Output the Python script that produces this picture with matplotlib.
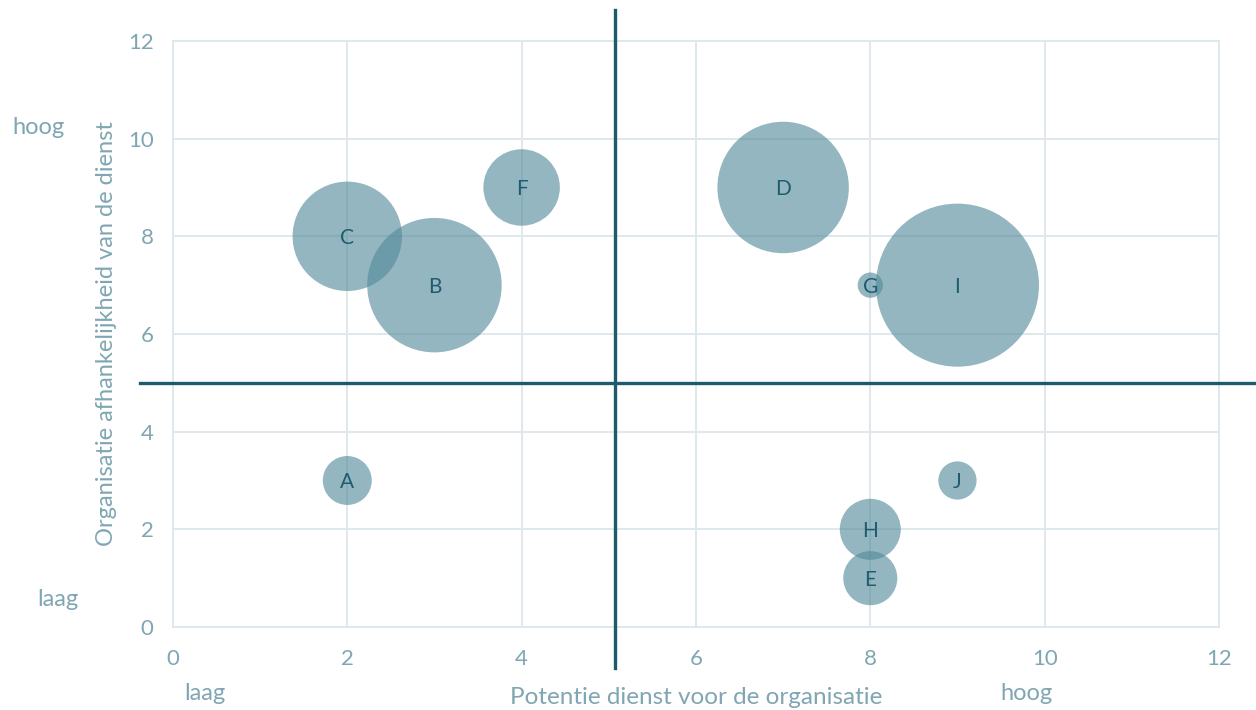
import matplotlib.pyplot as plt

# data
labels = ["A", "B", "C", "D", "E", "F", "G", "H", "I", "J"]
potentie = [2, 3, 2, 7, 8, 4, 8, 8, 9, 9]
afhankelijkheid = [3, 7, 8, 9, 1, 9, 7, 2, 7, 3]
grootte = [9, 68, 45, 65, 11, 22, 2.4, 14, 100, 5.5]

ticks = [0, 2, 4, 6, 8, 10, 12]

tick_col = "#7fa6b2"
line_col = "#1d5b6c"
bubble_col = "#52899a"
text_col = "#1f5c70"
grid_col = "#dde9ed"

plt.rcParams['font.family'] = ['Lato', 'DejaVu Sans']

fig = plt.figure(figsize=(12.56, 7.10), dpi=100)
ax = fig.add_axes([0.1377, 0.1169, 0.8328, 0.8254])

# bubble area proportional to value (largest ~ 163 px across)
scale = 137.8
ax.scatter(potentie, afhankelijkheid, s=[g * scale for g in grootte],
           color=bubble_col, alpha=0.62, linewidths=0, zorder=3)
for lab, x, y in zip(labels, potentie, afhankelijkheid):
    ax.text(x, y - 0.03, lab, ha="center", va="center", fontsize=15,
            color=text_col, zorder=4)

ax.set_xlim(0, 12)
ax.set_ylim(0, 12)
ax.set_xticks(ticks)
ax.set_yticks(ticks)
ax.tick_params(length=0, labelsize=16, labelcolor=tick_col)
ax.tick_params(axis="x", pad=16)
ax.tick_params(axis="y", pad=14)
ax.grid(True, color=grid_col, linewidth=1.4, zorder=0)
ax.set_axisbelow(True)
for sp in ax.spines.values():
    sp.set_color(grid_col)
    sp.set_linewidth(1.4)

# quadrant lines, running past the plot area
ax.plot([5.07, 5.07], [-0.84, 12.63], color=line_col, linewidth=2.4,
        clip_on=False, zorder=5)
ax.plot([-0.38, 12.45], [5, 5], color=line_col, linewidth=2.4,
        clip_on=False, zorder=5)

ax.set_xlabel("Potentie dienst voor de organisatie", fontsize=17.5,
              color=tick_col, labelpad=13)
ax.set_ylabel("Organisatie afhankelijkheid van de dienst", fontsize=17,
              color=tick_col, labelpad=8)

fig.text(12 / 1256, 1 - 128 / 710, "hoog", fontsize=17, color=tick_col,
         ha="left", va="center")
fig.text(37 / 1256, 1 - 600 / 710, "laag", fontsize=17, color=tick_col,
         ha="left", va="center")
fig.text(205 / 1256, 1 - 693 / 710, "laag", fontsize=17, color=tick_col,
         ha="center", va="center")
fig.text(1027 / 1256, 1 - 693 / 710, "hoog", fontsize=17, color=tick_col,
         ha="center", va="center")

fig.savefig("out.png", dpi=100)
